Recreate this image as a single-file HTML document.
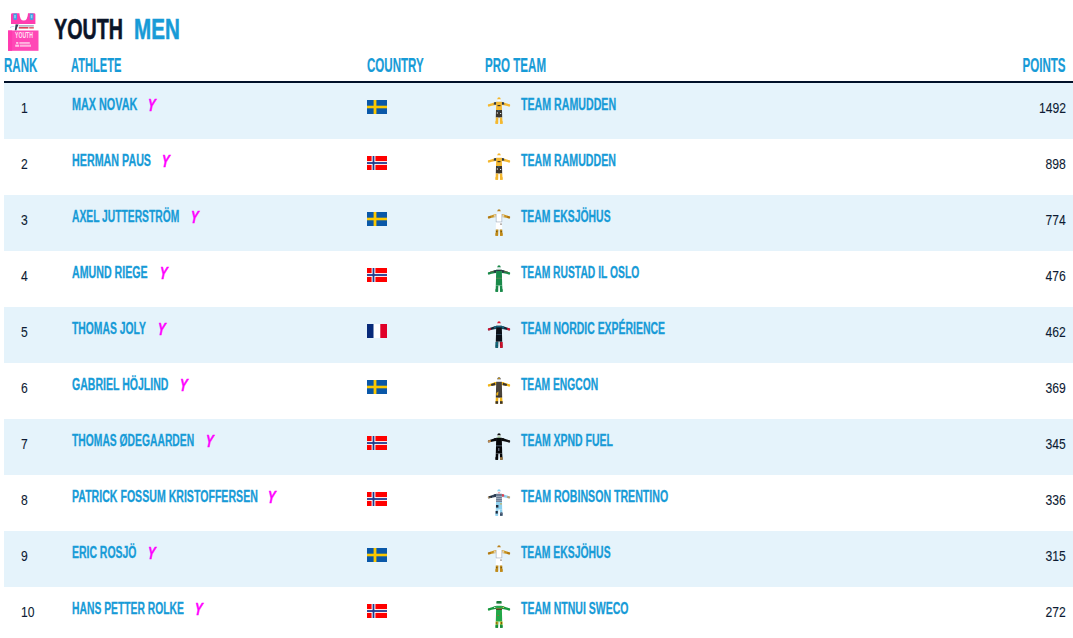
<!DOCTYPE html>
<html><head><meta charset="utf-8"><title>Youth Men</title><style>
*{margin:0;padding:0;box-sizing:border-box}
html,body{width:1073px;height:638px;overflow:hidden;background:#fff}
body{position:relative;font-family:"Liberation Sans",sans-serif}
.t{position:absolute;white-space:nowrap;line-height:1;transform-origin:0 0}
.r{transform-origin:100% 0}
.title{font-weight:700;font-size:30px;transform:scaleX(.656);-webkit-text-stroke:.6px currentColor}
.hd{font-weight:700;font-size:20.3px;color:#179bd7;transform:scaleX(.57);-webkit-text-stroke:.2px #179bd7}
.nm{font-weight:700;font-size:17.4px;color:#179bd7;transform:scaleX(.61);-webkit-text-stroke:.3px #179bd7}
.num{font-weight:400;font-size:14.8px;color:#0d1b33;transform:scaleX(.82);-webkit-text-stroke:.1px #0d1b33}
.y{display:inline-block;font-weight:700;font-style:italic;font-size:17.4px;color:#ff00ff;transform:translateY(1px) scaleX(.67) skewX(-6deg);transform-origin:0 100%;-webkit-text-stroke:.5px #ff00ff}
.line{position:absolute;left:4px;top:81px;width:1069px;height:2px;background:#001029}
.row{position:absolute;left:4px;width:1069px;height:56px}
.odd{background:#e5f3fb}
.flag,.rider,.jer{position:absolute}
</style></head>
<body>
<div class="jer" style="left:0;top:0"><svg width="45" height="55" viewBox="0 0 45 55"><path d="M11 23.9 V14.6 Q11 13.2 12.4 13.2 H19.4 Q19.8 20.6 23.7 20.6 Q27.6 20.6 28 13.2 H34 Q35.4 13.2 35.4 14.6 V23.9 Z" fill="#ff3cb0"/><path d="M13.4 13.4 H17 V19.6 Q15 20.2 13.4 19.6 Z" fill="#3aa6e2"/><path d="M29.8 13.4 H33.4 V19.6 Q31.6 20.2 29.8 19.6 Z" fill="#3aa6e2"/><rect x="14.2" y="15" width="1.6" height="3.2" fill="#8fd0f4"/><rect x="30.8" y="15" width="1.6" height="3.2" fill="#8fd0f4"/><path d="M10 27.6 Q12 26 14.2 26.4" stroke="#bcd8f0" stroke-width="0.9" fill="none"/><path d="M15.6 24.2 L18.6 24.4 L17.2 27.6 L16.4 30.6 L14.8 30.4 Z" fill="#35405a"/><rect x="18.8" y="25" width="15" height="1.7" fill="#b4b8c8"/><rect x="18.8" y="27" width="9.6" height="1.6" fill="#e0405a"/><rect x="29.2" y="27" width="4.6" height="1.6" fill="#e86070"/><rect x="8.1" y="30.5" width="30.4" height="20.3" fill="#ff48b6"/><rect x="8.1" y="30.5" width="4" height="20.3" fill="#ff3aaf"/><text x="0" y="0" fill="#ffe0f4" font-family="Liberation Sans" font-weight="700" font-size="8.2" transform="translate(15.1 37.8) scale(0.62 1)">YOUTH</text><rect x="16.1" y="42" width="2.2" height="1.9" fill="#ffc4e6"/><rect x="19.4" y="42" width="10.4" height="1.9" fill="#ffb0de"/><rect x="15.2" y="44.6" width="4" height="2.2" fill="#ffc4e6"/><rect x="20" y="44.6" width="11" height="2.2" fill="#ffb0de"/></svg></div>
<span class="t title" style="left:54px;top:14.4px;color:#0a1428">YOUTH</span>
<span class="t title" style="left:133.6px;top:14.4px;color:#179bd7;transform:scaleX(.687)">MEN</span>
<span class="t hd" style="left:4px;top:54.7px">RANK</span>
<span class="t hd" style="left:71px;top:54.7px;transform:scaleX(.548)">ATHLETE</span>
<span class="t hd" style="left:367px;top:54.7px">COUNTRY</span>
<span class="t hd" style="left:485px;top:54.7px">PRO TEAM</span>
<span class="t hd r" style="right:7px;top:54.7px">POINTS</span>
<div class="line"></div>
<div class="row odd" style="top:83px"></div>
<span class="t num" style="left:20.5px;top:101px">1</span>
<span class="t nm" style="left:72px;top:96.2px;transform:scaleX(0.6217)">MAX NOVAK</span><span class="t y" style="left:146.50000000000006px;top:96.2px">Y</span>
<div style="position:absolute;left:367px;top:100px"><svg class="flag" width="20" height="14" viewBox="0 0 20 14"><rect width="20" height="14" fill="#0a58a8"/><rect x="6.6" width="2.8" height="14" fill="#fcc800"/><rect y="5.7" width="20" height="2.6" fill="#fcc800"/></svg></div>
<div style="position:absolute;left:487px;top:97px"><svg class="rider" width="24" height="28" viewBox="0 0 24 28"><path d="M9.4 5 L7 5.4 L1.2 7.5 L0.8 8.6 L1.4 9.6 L7.2 8.3 L9.4 8 Z" fill="#f4b830"/><path d="M14.6 5 L17 5.4 L22.8 7.5 L23.2 8.6 L22.6 9.6 L16.8 8.3 L14.6 8 Z" fill="#f4b830"/><path d="M0.8 7.7 L3.6 6.8 L3.9 8.9 L1.4 9.6 Z" fill="#f4b830"/><path d="M23.2 7.7 L20.4 6.8 L20.1 8.9 L22.6 9.6 Z" fill="#f4b830"/><path d="M9.5 5 L7.2 5.3 L6.6 7.6 L9.3 7.8 Z" fill="#2d3a4c"/><path d="M14.5 5 L16.8 5.3 L17.4 7.6 L14.7 7.8 Z" fill="#2d3a4c"/><path d="M9.2 4.8 H14.8 L15 13 H9 Z" fill="#f4b830"/><path d="M9 13 H15 L15.2 20.6 H8.8 Z" fill="#3a352e"/><path d="M8.8 20.4 H11.4 L11 26.8 H8.5 Z" fill="#f4b830"/><path d="M12.8 20.4 H15.2 L15.6 26.8 H13.1 Z" fill="#f4b830"/><rect x="8.5" y="24.2" width="2.6" height="2.6" fill="#f4b830"/><rect x="13" y="24.2" width="2.6" height="2.6" fill="#f4b830"/><path d="M10.4 1.8 Q10.4 0.3 12 0.3 Q13.6 0.3 13.6 1.8 V2.6 H10.4 Z" fill="#f2b42a"/><rect x="10.5" y="2.5" width="3" height="1.6" fill="#fff"/><rect x="10.5" y="8" width="3" height="1.2" fill="#3a352e"/><rect x="9.8" y="15.5" width="1.2" height="1" fill="#fff"/><rect x="13" y="16" width="1.2" height="1" fill="#dfe8f0"/><rect x="10.5" y="13.4" width="2" height="0.8" fill="#2a6aa0"/></svg></div>
<span class="t nm" style="left:521px;top:96.2px;transform:scaleX(0.6114)">TEAM RAMUDDEN</span>
<span class="t num r" style="right:7px;top:101px">1492</span>
<div class="row" style="top:139px"></div>
<span class="t num" style="left:20.5px;top:157px">2</span>
<span class="t nm" style="left:72px;top:152.2px;transform:scaleX(0.6165)">HERMAN PAUS</span><span class="t y" style="left:160.5px;top:152.2px">Y</span>
<div style="position:absolute;left:367px;top:156px"><svg class="flag" width="20" height="14" viewBox="0 0 20 14"><rect width="20" height="14" fill="#ff0000"/><rect x="4.6" width="3.8" height="14" fill="#fff"/><rect y="5.1" width="20" height="3.8" fill="#fff"/><rect x="5.6" width="1.8" height="14" fill="#213a8c"/><rect y="6.1" width="20" height="1.8" fill="#213a8c"/></svg></div>
<div style="position:absolute;left:487px;top:153px"><svg class="rider" width="24" height="28" viewBox="0 0 24 28"><path d="M9.4 5 L7 5.4 L1.2 7.5 L0.8 8.6 L1.4 9.6 L7.2 8.3 L9.4 8 Z" fill="#f4b830"/><path d="M14.6 5 L17 5.4 L22.8 7.5 L23.2 8.6 L22.6 9.6 L16.8 8.3 L14.6 8 Z" fill="#f4b830"/><path d="M0.8 7.7 L3.6 6.8 L3.9 8.9 L1.4 9.6 Z" fill="#f4b830"/><path d="M23.2 7.7 L20.4 6.8 L20.1 8.9 L22.6 9.6 Z" fill="#f4b830"/><path d="M9.5 5 L7.2 5.3 L6.6 7.6 L9.3 7.8 Z" fill="#2d3a4c"/><path d="M14.5 5 L16.8 5.3 L17.4 7.6 L14.7 7.8 Z" fill="#2d3a4c"/><path d="M9.2 4.8 H14.8 L15 13 H9 Z" fill="#f4b830"/><path d="M9 13 H15 L15.2 20.6 H8.8 Z" fill="#3a352e"/><path d="M8.8 20.4 H11.4 L11 26.8 H8.5 Z" fill="#f4b830"/><path d="M12.8 20.4 H15.2 L15.6 26.8 H13.1 Z" fill="#f4b830"/><rect x="8.5" y="24.2" width="2.6" height="2.6" fill="#f4b830"/><rect x="13" y="24.2" width="2.6" height="2.6" fill="#f4b830"/><path d="M10.4 1.8 Q10.4 0.3 12 0.3 Q13.6 0.3 13.6 1.8 V2.6 H10.4 Z" fill="#f2b42a"/><rect x="10.5" y="2.5" width="3" height="1.6" fill="#fff"/><rect x="10.5" y="8" width="3" height="1.2" fill="#3a352e"/><rect x="9.8" y="15.5" width="1.2" height="1" fill="#fff"/><rect x="13" y="16" width="1.2" height="1" fill="#dfe8f0"/><rect x="10.5" y="13.4" width="2" height="0.8" fill="#2a6aa0"/></svg></div>
<span class="t nm" style="left:521px;top:152.2px;transform:scaleX(0.6100)">TEAM RAMUDDEN</span>
<span class="t num r" style="right:7px;top:157px">898</span>
<div class="row odd" style="top:195px"></div>
<span class="t num" style="left:20.5px;top:213px">3</span>
<span class="t nm" style="left:72px;top:208.2px;transform:scaleX(0.5914)">AXEL JUTTERSTRÖM</span><span class="t y" style="left:189.5px;top:208.2px">Y</span>
<div style="position:absolute;left:367px;top:212px"><svg class="flag" width="20" height="14" viewBox="0 0 20 14"><rect width="20" height="14" fill="#0a58a8"/><rect x="6.6" width="2.8" height="14" fill="#fcc800"/><rect y="5.7" width="20" height="2.6" fill="#fcc800"/></svg></div>
<div style="position:absolute;left:487px;top:209px"><svg class="rider" width="24" height="28" viewBox="0 0 24 28"><path d="M9.4 5 L7 5.4 L1.2 7.5 L0.8 8.6 L1.4 9.6 L7.2 8.3 L9.4 8 Z" fill="#c8921e"/><path d="M14.6 5 L17 5.4 L22.8 7.5 L23.2 8.6 L22.6 9.6 L16.8 8.3 L14.6 8 Z" fill="#c8921e"/><path d="M0.8 7.7 L3.6 6.8 L3.9 8.9 L1.4 9.6 Z" fill="#b07814"/><path d="M23.2 7.7 L20.4 6.8 L20.1 8.9 L22.6 9.6 Z" fill="#b07814"/><path d="M9.5 5 L7.2 5.3 L6.6 7.6 L9.3 7.8 Z" fill="#f0f0f0"/><path d="M14.5 5 L16.8 5.3 L17.4 7.6 L14.7 7.8 Z" fill="#f0f0f0"/><path d="M9.2 4.8 H14.8 L15 13 H9 Z" fill="#ffffff"/><path d="M9 13 H15 L15.2 20.6 H8.8 Z" fill="#ffffff"/><path d="M8.8 20.4 H11.4 L11 26.8 H8.5 Z" fill="#c08a18"/><path d="M12.8 20.4 H15.2 L15.6 26.8 H13.1 Z" fill="#c08a18"/><rect x="8.5" y="24.2" width="2.6" height="2.6" fill="#c08a18"/><rect x="13" y="24.2" width="2.6" height="2.6" fill="#c08a18"/><path d="M10.4 1.8 Q10.4 0.3 12 0.3 Q13.6 0.3 13.6 1.8 V2.6 H10.4 Z" fill="#b8801c"/><rect x="10.5" y="2.5" width="3" height="1.6" fill="#f4f6f8"/><path d="M9.2 5 V13 M14.8 5 V13" stroke="#a8b4c4" stroke-width="0.7"/><rect x="9" y="12.6" width="6" height="0.7" fill="#a8b4c4"/><rect x="13.4" y="14.6" width="1.2" height="1" fill="#3a3028"/><rect x="7.4" y="5.2" width="1.4" height="1.4" fill="#d8a030"/><rect x="15.2" y="5.2" width="1.4" height="1.4" fill="#d8a030"/><rect x="9" y="22" width="1.4" height="1.2" fill="#7a5810"/><rect x="13.6" y="22" width="1.4" height="1.2" fill="#7a5810"/></svg></div>
<span class="t nm" style="left:521px;top:208.2px;transform:scaleX(0.5980)">TEAM EKSJÖHUS</span>
<span class="t num r" style="right:7px;top:213px">774</span>
<div class="row" style="top:251px"></div>
<span class="t num" style="left:20.5px;top:269px">4</span>
<span class="t nm" style="left:72px;top:264.2px;transform:scaleX(0.6118)">AMUND RIEGE</span><span class="t y" style="left:158.49999999999994px;top:264.2px">Y</span>
<div style="position:absolute;left:367px;top:268px"><svg class="flag" width="20" height="14" viewBox="0 0 20 14"><rect width="20" height="14" fill="#ff0000"/><rect x="4.6" width="3.8" height="14" fill="#fff"/><rect y="5.1" width="20" height="3.8" fill="#fff"/><rect x="5.6" width="1.8" height="14" fill="#213a8c"/><rect y="6.1" width="20" height="1.8" fill="#213a8c"/></svg></div>
<div style="position:absolute;left:487px;top:265px"><svg class="rider" width="24" height="28" viewBox="0 0 24 28"><path d="M9.4 5 L7 5.4 L1.2 7.5 L0.8 8.6 L1.4 9.6 L7.2 8.3 L9.4 8 Z" fill="#1a8a4a"/><path d="M14.6 5 L17 5.4 L22.8 7.5 L23.2 8.6 L22.6 9.6 L16.8 8.3 L14.6 8 Z" fill="#1a8a4a"/><path d="M0.8 7.7 L3.6 6.8 L3.9 8.9 L1.4 9.6 Z" fill="#1a8a4a"/><path d="M23.2 7.7 L20.4 6.8 L20.1 8.9 L22.6 9.6 Z" fill="#1a8a4a"/><path d="M9.5 5 L7.2 5.3 L6.6 7.6 L9.3 7.8 Z" fill="#2a3444"/><path d="M14.5 5 L16.8 5.3 L17.4 7.6 L14.7 7.8 Z" fill="#2a3444"/><path d="M9.2 4.8 H14.8 L15 13 H9 Z" fill="#1a8a4a"/><path d="M9 13 H15 L15.2 20.6 H8.8 Z" fill="#1a8a4a"/><path d="M8.8 20.4 H11.4 L11 26.8 H8.5 Z" fill="#1a8a4a"/><path d="M12.8 20.4 H15.2 L15.6 26.8 H13.1 Z" fill="#1a8a4a"/><rect x="8.5" y="24.2" width="2.6" height="2.6" fill="#1a8a4a"/><rect x="13" y="24.2" width="2.6" height="2.6" fill="#1a8a4a"/><path d="M10.4 1.8 Q10.4 0.3 12 0.3 Q13.6 0.3 13.6 1.8 V2.6 H10.4 Z" fill="#1a8848"/><rect x="10.5" y="2.5" width="3" height="1.6" fill="#e8eef0"/><rect x="9.2" y="4.8" width="5.6" height="1.2" fill="#2a3444"/><rect x="9" y="12.8" width="6" height="0.8" fill="#6a8a5a"/><path d="M3 7.2 L7 6" stroke="#6a4a3a" stroke-width="0.8"/><path d="M21 7.2 L17 6" stroke="#6a4a3a" stroke-width="0.8"/></svg></div>
<span class="t nm" style="left:521px;top:264.2px;transform:scaleX(0.5930)">TEAM RUSTAD IL OSLO</span>
<span class="t num r" style="right:7px;top:269px">476</span>
<div class="row odd" style="top:307px"></div>
<span class="t num" style="left:20.5px;top:325px">5</span>
<span class="t nm" style="left:72px;top:320.2px;transform:scaleX(0.5956)">THOMAS JOLY</span><span class="t y" style="left:156.5000000000001px;top:320.2px">Y</span>
<div style="position:absolute;left:367px;top:324px"><svg class="flag" width="20" height="14" viewBox="0 0 20 14"><rect width="6.7" height="14" fill="#082a7a"/><rect x="6.7" width="6.6" height="14" fill="#fff"/><rect x="13.3" width="6.7" height="14" fill="#e00028"/></svg></div>
<div style="position:absolute;left:487px;top:321px"><svg class="rider" width="24" height="28" viewBox="0 0 24 28"><path d="M9.4 5 L7 5.4 L1.2 7.5 L0.8 8.6 L1.4 9.6 L7.2 8.3 L9.4 8 Z" fill="#132233"/><path d="M14.6 5 L17 5.4 L22.8 7.5 L23.2 8.6 L22.6 9.6 L16.8 8.3 L14.6 8 Z" fill="#132233"/><path d="M0.8 7.7 L3.6 6.8 L3.9 8.9 L1.4 9.6 Z" fill="#e01030"/><path d="M23.2 7.7 L20.4 6.8 L20.1 8.9 L22.6 9.6 Z" fill="#e01030"/><path d="M9.5 5 L7.2 5.3 L6.6 7.6 L9.3 7.8 Z" fill="#17627a"/><path d="M14.5 5 L16.8 5.3 L17.4 7.6 L14.7 7.8 Z" fill="#17627a"/><path d="M9.2 4.8 H14.8 L15 13 H9 Z" fill="#0a1018"/><path d="M9 13 H15 L15.2 20.6 H8.8 Z" fill="#0a1018"/><path d="M8.8 20.4 H11.4 L11 26.8 H8.5 Z" fill="#0a1018"/><path d="M12.8 20.4 H15.2 L15.6 26.8 H13.1 Z" fill="#0a1018"/><rect x="8.5" y="24.2" width="2.6" height="2.6" fill="#0f6478"/><rect x="13" y="24.2" width="2.6" height="2.6" fill="#d8102a"/><path d="M10.4 1.8 Q10.4 0.3 12 0.3 Q13.6 0.3 13.6 1.8 V2.6 H10.4 Z" fill="#e0142c"/><rect x="10.5" y="2.5" width="3" height="1.6" fill="#f4f6f8"/><rect x="9.2" y="4.8" width="5.6" height="1.6" fill="#17627a"/><rect x="9.4" y="13" width="5.2" height="0.7" fill="#3a5a70"/><rect x="8.6" y="21" width="2.4" height="3.4" fill="#0f6478"/><rect x="13.2" y="21" width="2.4" height="3.4" fill="#d8102a"/></svg></div>
<span class="t nm" style="left:521px;top:320.2px;transform:scaleX(0.6009)">TEAM NORDIC EXPÉRIENCE</span>
<span class="t num r" style="right:7px;top:325px">462</span>
<div class="row" style="top:363px"></div>
<span class="t num" style="left:20.5px;top:381px">6</span>
<span class="t nm" style="left:72px;top:376.2px;transform:scaleX(0.6063)">GABRIEL HÖJLIND</span><span class="t y" style="left:178.4999999999999px;top:376.2px">Y</span>
<div style="position:absolute;left:367px;top:380px"><svg class="flag" width="20" height="14" viewBox="0 0 20 14"><rect width="20" height="14" fill="#0a58a8"/><rect x="6.6" width="2.8" height="14" fill="#fcc800"/><rect y="5.7" width="20" height="2.6" fill="#fcc800"/></svg></div>
<div style="position:absolute;left:487px;top:377px"><svg class="rider" width="24" height="28" viewBox="0 0 24 28"><path d="M9.4 5 L7 5.4 L1.2 7.5 L0.8 8.6 L1.4 9.6 L7.2 8.3 L9.4 8 Z" fill="#f0b418"/><path d="M14.6 5 L17 5.4 L22.8 7.5 L23.2 8.6 L22.6 9.6 L16.8 8.3 L14.6 8 Z" fill="#f0b418"/><path d="M0.8 7.7 L3.6 6.8 L3.9 8.9 L1.4 9.6 Z" fill="#f0b418"/><path d="M23.2 7.7 L20.4 6.8 L20.1 8.9 L22.6 9.6 Z" fill="#f0b418"/><path d="M9.5 5 L7.2 5.3 L6.6 7.6 L9.3 7.8 Z" fill="#f0b418"/><path d="M14.5 5 L16.8 5.3 L17.4 7.6 L14.7 7.8 Z" fill="#f0b418"/><path d="M9.2 4.8 H14.8 L15 13 H9 Z" fill="#4a443c"/><path d="M9 13 H15 L15.2 20.6 H8.8 Z" fill="#4a443c"/><path d="M8.8 20.4 H11.4 L11 26.8 H8.5 Z" fill="#f0b418"/><path d="M12.8 20.4 H15.2 L15.6 26.8 H13.1 Z" fill="#f0b418"/><rect x="8.5" y="24.2" width="2.6" height="2.6" fill="#3a342c"/><rect x="13" y="24.2" width="2.6" height="2.6" fill="#3a342c"/><path d="M10.4 1.8 Q10.4 0.3 12 0.3 Q13.6 0.3 13.6 1.8 V2.6 H10.4 Z" fill="#3a342c"/><rect x="10.5" y="2.5" width="3" height="1.6" fill="#f4f6f8"/><rect x="11.3" y="0.8" width="1.4" height="1.2" fill="#f0b418"/><path d="M4 7 L8 5.8 L8.4 8.2 L4.4 9 Z" fill="#3a342c"/><path d="M20 7 L16 5.8 L15.6 8.2 L19.6 9 Z" fill="#3a342c"/><path d="M9.4 16 L11.5 14.6 L11 18.5 L9.3 18.4 Z" fill="#f0b418"/><rect x="9" y="18.8" width="6" height="1.6" fill="#3a342c"/></svg></div>
<span class="t nm" style="left:521px;top:376.2px;transform:scaleX(0.5916)">TEAM ENGCON</span>
<span class="t num r" style="right:7px;top:381px">369</span>
<div class="row odd" style="top:419px"></div>
<span class="t num" style="left:20.5px;top:437px">7</span>
<span class="t nm" style="left:72px;top:432.2px;transform:scaleX(0.5934)">THOMAS ØDEGAARDEN</span><span class="t y" style="left:204.5000000000001px;top:432.2px">Y</span>
<div style="position:absolute;left:367px;top:436px"><svg class="flag" width="20" height="14" viewBox="0 0 20 14"><rect width="20" height="14" fill="#ff0000"/><rect x="4.6" width="3.8" height="14" fill="#fff"/><rect y="5.1" width="20" height="3.8" fill="#fff"/><rect x="5.6" width="1.8" height="14" fill="#213a8c"/><rect y="6.1" width="20" height="1.8" fill="#213a8c"/></svg></div>
<div style="position:absolute;left:487px;top:433px"><svg class="rider" width="24" height="28" viewBox="0 0 24 28"><path d="M9.4 5 L7 5.4 L1.2 7.5 L0.8 8.6 L1.4 9.6 L7.2 8.3 L9.4 8 Z" fill="#0a0a0c"/><path d="M14.6 5 L17 5.4 L22.8 7.5 L23.2 8.6 L22.6 9.6 L16.8 8.3 L14.6 8 Z" fill="#0a0a0c"/><path d="M0.8 7.7 L3.6 6.8 L3.9 8.9 L1.4 9.6 Z" fill="#c89050"/><path d="M23.2 7.7 L20.4 6.8 L20.1 8.9 L22.6 9.6 Z" fill="#1a1a1c"/><path d="M9.5 5 L7.2 5.3 L6.6 7.6 L9.3 7.8 Z" fill="#0a0a0c"/><path d="M14.5 5 L16.8 5.3 L17.4 7.6 L14.7 7.8 Z" fill="#0a0a0c"/><path d="M9.2 4.8 H14.8 L15 13 H9 Z" fill="#050507"/><path d="M9 13 H15 L15.2 20.6 H8.8 Z" fill="#050507"/><path d="M8.8 20.4 H11.4 L11 26.8 H8.5 Z" fill="#050507"/><path d="M12.8 20.4 H15.2 L15.6 26.8 H13.1 Z" fill="#050507"/><rect x="8.5" y="24.2" width="2.6" height="2.6" fill="#050507"/><rect x="13" y="24.2" width="2.6" height="2.6" fill="#a07840"/><path d="M10.4 1.8 Q10.4 0.3 12 0.3 Q13.6 0.3 13.6 1.8 V2.6 H10.4 Z" fill="#0c0c0c"/><rect x="10.5" y="2.5" width="3" height="1.6" fill="#f0f4f0"/><rect x="10.5" y="3.6" width="3" height="1" fill="#6aa060"/><rect x="9" y="12.4" width="6" height="0.9" fill="#5a6a80"/><rect x="11" y="15" width="1.4" height="3" fill="#5a6070"/></svg></div>
<span class="t nm" style="left:521px;top:432.2px;transform:scaleX(0.6023)">TEAM XPND FUEL</span>
<span class="t num r" style="right:7px;top:437px">345</span>
<div class="row" style="top:475px"></div>
<span class="t num" style="left:20.5px;top:493px">8</span>
<span class="t nm" style="left:72px;top:488.2px;transform:scaleX(0.6087)">PATRICK FOSSUM KRISTOFFERSEN</span><span class="t y" style="left:266.5px;top:488.2px">Y</span>
<div style="position:absolute;left:367px;top:492px"><svg class="flag" width="20" height="14" viewBox="0 0 20 14"><rect width="20" height="14" fill="#ff0000"/><rect x="4.6" width="3.8" height="14" fill="#fff"/><rect y="5.1" width="20" height="3.8" fill="#fff"/><rect x="5.6" width="1.8" height="14" fill="#213a8c"/><rect y="6.1" width="20" height="1.8" fill="#213a8c"/></svg></div>
<div style="position:absolute;left:487px;top:489px"><svg class="rider" width="24" height="28" viewBox="0 0 24 28"><path d="M9.4 5 L7 5.4 L1.2 7.5 L0.8 8.6 L1.4 9.6 L7.2 8.3 L9.4 8 Z" fill="#3a4a5e"/><path d="M14.6 5 L17 5.4 L22.8 7.5 L23.2 8.6 L22.6 9.6 L16.8 8.3 L14.6 8 Z" fill="#8ed0ee"/><path d="M0.8 7.7 L3.6 6.8 L3.9 8.9 L1.4 9.6 Z" fill="#c0a070"/><path d="M23.2 7.7 L20.4 6.8 L20.1 8.9 L22.6 9.6 Z" fill="#c0a070"/><path d="M9.5 5 L7.2 5.3 L6.6 7.6 L9.3 7.8 Z" fill="#2a3a50"/><path d="M14.5 5 L16.8 5.3 L17.4 7.6 L14.7 7.8 Z" fill="#e04050"/><path d="M9.2 4.8 H14.8 L15 13 H9 Z" fill="#6a7a92"/><path d="M9 13 H15 L15.2 20.6 H8.8 Z" fill="#8ed0ee"/><path d="M8.8 20.4 H11.4 L11 26.8 H8.5 Z" fill="#8ed0ee"/><path d="M12.8 20.4 H15.2 L15.6 26.8 H13.1 Z" fill="#8ed0ee"/><rect x="8.5" y="24.2" width="2.6" height="2.6" fill="#8ed0ee"/><rect x="13" y="24.2" width="2.6" height="2.6" fill="#3a4a62"/><path d="M10.4 1.8 Q10.4 0.3 12 0.3 Q13.6 0.3 13.6 1.8 V2.6 H10.4 Z" fill="#8ad2f0"/><rect x="10.5" y="2.5" width="3" height="1.6" fill="#f4f6f8"/><rect x="11.4" y="3.3" width="1.2" height="1" fill="#e04050"/><rect x="9" y="7" width="6" height="0.8" fill="#a8b4c4"/><rect x="9" y="9.2" width="6" height="0.8" fill="#a8b4c4"/><rect x="9" y="11.4" width="6" height="0.8" fill="#a8b4c4"/><rect x="13.2" y="14.4" width="1.6" height="1" fill="#e0a020"/><rect x="9" y="16" width="2.4" height="2.6" fill="#1e2a3c"/><rect x="8.6" y="22" width="2.2" height="2.6" fill="#1e2a3c"/><rect x="13.4" y="23.2" width="2" height="2" fill="#5a6a80"/><rect x="2" y="7.2" width="3" height="1.4" fill="#1a2636"/></svg></div>
<span class="t nm" style="left:521px;top:488.2px;transform:scaleX(0.6092)">TEAM ROBINSON TRENTINO</span>
<span class="t num r" style="right:7px;top:493px">336</span>
<div class="row odd" style="top:531px"></div>
<span class="t num" style="left:20.5px;top:549px">9</span>
<span class="t nm" style="left:72px;top:544.2px;transform:scaleX(0.6008)">ERIC ROSJÖ</span><span class="t y" style="left:146.5px;top:544.2px">Y</span>
<div style="position:absolute;left:367px;top:548px"><svg class="flag" width="20" height="14" viewBox="0 0 20 14"><rect width="20" height="14" fill="#0a58a8"/><rect x="6.6" width="2.8" height="14" fill="#fcc800"/><rect y="5.7" width="20" height="2.6" fill="#fcc800"/></svg></div>
<div style="position:absolute;left:487px;top:545px"><svg class="rider" width="24" height="28" viewBox="0 0 24 28"><path d="M9.4 5 L7 5.4 L1.2 7.5 L0.8 8.6 L1.4 9.6 L7.2 8.3 L9.4 8 Z" fill="#c8921e"/><path d="M14.6 5 L17 5.4 L22.8 7.5 L23.2 8.6 L22.6 9.6 L16.8 8.3 L14.6 8 Z" fill="#c8921e"/><path d="M0.8 7.7 L3.6 6.8 L3.9 8.9 L1.4 9.6 Z" fill="#b07814"/><path d="M23.2 7.7 L20.4 6.8 L20.1 8.9 L22.6 9.6 Z" fill="#b07814"/><path d="M9.5 5 L7.2 5.3 L6.6 7.6 L9.3 7.8 Z" fill="#f0f0f0"/><path d="M14.5 5 L16.8 5.3 L17.4 7.6 L14.7 7.8 Z" fill="#f0f0f0"/><path d="M9.2 4.8 H14.8 L15 13 H9 Z" fill="#ffffff"/><path d="M9 13 H15 L15.2 20.6 H8.8 Z" fill="#ffffff"/><path d="M8.8 20.4 H11.4 L11 26.8 H8.5 Z" fill="#c08a18"/><path d="M12.8 20.4 H15.2 L15.6 26.8 H13.1 Z" fill="#c08a18"/><rect x="8.5" y="24.2" width="2.6" height="2.6" fill="#c08a18"/><rect x="13" y="24.2" width="2.6" height="2.6" fill="#c08a18"/><path d="M10.4 1.8 Q10.4 0.3 12 0.3 Q13.6 0.3 13.6 1.8 V2.6 H10.4 Z" fill="#b8801c"/><rect x="10.5" y="2.5" width="3" height="1.6" fill="#f4f6f8"/><path d="M9.2 5 V13 M14.8 5 V13" stroke="#a8b4c4" stroke-width="0.7"/><rect x="9" y="12.6" width="6" height="0.7" fill="#a8b4c4"/><rect x="13.4" y="14.6" width="1.2" height="1" fill="#3a3028"/><rect x="7.4" y="5.2" width="1.4" height="1.4" fill="#d8a030"/><rect x="15.2" y="5.2" width="1.4" height="1.4" fill="#d8a030"/><rect x="9" y="22" width="1.4" height="1.2" fill="#7a5810"/><rect x="13.6" y="22" width="1.4" height="1.2" fill="#7a5810"/></svg></div>
<span class="t nm" style="left:521px;top:544.2px;transform:scaleX(0.5980)">TEAM EKSJÖHUS</span>
<span class="t num r" style="right:7px;top:549px">315</span>
<div class="row" style="top:587px"></div>
<span class="t num" style="left:20.5px;top:605px">10</span>
<span class="t nm" style="left:72px;top:600.2px;transform:scaleX(0.5939)">HANS PETTER ROLKE</span><span class="t y" style="left:193.4999999999999px;top:600.2px">Y</span>
<div style="position:absolute;left:367px;top:604px"><svg class="flag" width="20" height="14" viewBox="0 0 20 14"><rect width="20" height="14" fill="#ff0000"/><rect x="4.6" width="3.8" height="14" fill="#fff"/><rect y="5.1" width="20" height="3.8" fill="#fff"/><rect x="5.6" width="1.8" height="14" fill="#213a8c"/><rect y="6.1" width="20" height="1.8" fill="#213a8c"/></svg></div>
<div style="position:absolute;left:487px;top:601px"><svg class="rider" width="24" height="28" viewBox="0 0 24 28"><path d="M9.4 5 L7 5.4 L1.2 7.5 L0.8 8.6 L1.4 9.6 L7.2 8.3 L9.4 8 Z" fill="#1a9a40"/><path d="M14.6 5 L17 5.4 L22.8 7.5 L23.2 8.6 L22.6 9.6 L16.8 8.3 L14.6 8 Z" fill="#1a9a40"/><path d="M0.8 7.7 L3.6 6.8 L3.9 8.9 L1.4 9.6 Z" fill="#1a9a40"/><path d="M23.2 7.7 L20.4 6.8 L20.1 8.9 L22.6 9.6 Z" fill="#1a9a40"/><path d="M9.5 5 L7.2 5.3 L6.6 7.6 L9.3 7.8 Z" fill="#1a8a38"/><path d="M14.5 5 L16.8 5.3 L17.4 7.6 L14.7 7.8 Z" fill="#1a8a38"/><path d="M9.2 4.8 H14.8 L15 13 H9 Z" fill="#22a848"/><path d="M9 13 H15 L15.2 20.6 H8.8 Z" fill="#22a848"/><path d="M8.8 20.4 H11.4 L11 26.8 H8.5 Z" fill="#22a848"/><path d="M12.8 20.4 H15.2 L15.6 26.8 H13.1 Z" fill="#22a848"/><rect x="8.5" y="24.2" width="2.6" height="2.6" fill="#1a8a3a"/><rect x="13" y="24.2" width="2.6" height="2.6" fill="#1a8a3a"/><path d="M10.4 1.8 Q10.4 0.3 12 0.3 Q13.6 0.3 13.6 1.8 V2.6 H10.4 Z" fill="#1a7a3a"/><rect x="10.5" y="2.5" width="3" height="1.6" fill="#f4f6f8"/><path d="M9.6 0 Q9.6 -0.8 12 -0.8 Q14.4 -0.8 14.4 0 L14.8 2.4 H9.2 Z" fill="#1a7a3a"/><rect x="9" y="7.2" width="6" height="1.6" fill="#8a6a30"/><rect x="9" y="8" width="6" height="0.6" fill="#2a2a1a"/><rect x="7.2" y="5.8" width="1.2" height="1.2" fill="#fff"/><rect x="15.6" y="5.8" width="1.2" height="1.2" fill="#f0e060"/><rect x="10.6" y="14" width="1.2" height="1" fill="#c05030"/><rect x="8.6" y="20.6" width="2.6" height="2.8" fill="#e8c020"/><rect x="13" y="20.6" width="2.6" height="2.8" fill="#e8c020"/><rect x="9.2" y="21.4" width="1.2" height="1.2" fill="#1a1a1a"/><rect x="13.8" y="21.4" width="1.2" height="1.2" fill="#1a1a1a"/></svg></div>
<span class="t nm" style="left:521px;top:600.2px;transform:scaleX(0.6045)">TEAM NTNUI SWECO</span>
<span class="t num r" style="right:7px;top:605px">272</span>
</body></html>
